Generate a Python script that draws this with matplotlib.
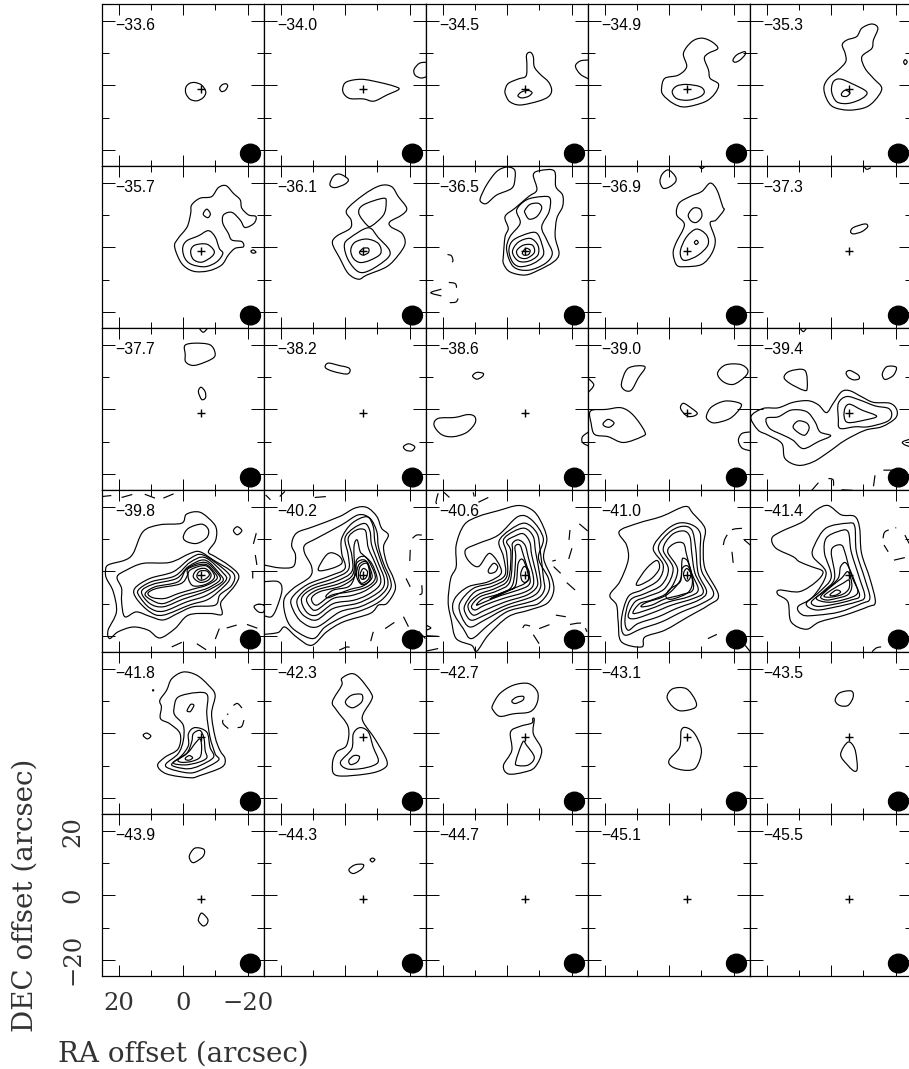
import matplotlib
matplotlib.use("Agg")
import matplotlib.pyplot as plt
import numpy as np
from matplotlib.patches import Ellipse, PathPatch
from matplotlib.path import Path

plt.rcParams["lines.scale_dashes"] = False

# channel velocities, row by row
velocities = ["−33.6", "−34.0", "−34.5", "−34.9", "−35.3",
              "−35.7", "−36.1", "−36.5", "−36.9", "−37.3",
              "−37.7", "−38.2", "−38.6", "−39.0", "−39.4",
              "−39.8", "−40.2", "−40.6", "−41.0", "−41.4",
              "−41.8", "−42.3", "−42.7", "−43.1", "−43.5",
              "−43.9", "−44.3", "−44.7", "−45.1", "−45.5"]

source_pos = (-5.5, -1.0)
beam_pos = (-20.9, -21.2)
beam_size = (6.2, 5.8)

x_major = [20, 0, -20]
x_labels = ["20", "0", "−20"]
minor_ticks = [10, -10]

# contours: (RA offsets, DEC offsets) in arcsec
# closed = closed rings, edge = solid arcs that run off the panel, neg = dashed arcs
closed = {}
edge = {}
neg = {}

closed["−33.6"] = [
    ([-.8, -1.9, -3.6, -5.7, -7.0, -6.2, -4.2, -2.1, -.8], [-.6, .6, .9, .1, -2.0, -3.8, -4.8, -4.3, -2.5]),
    ([-11.3, -12.1, -13.3, -13.8, -13.1, -11.9], [-.9, .2, .5, -.2, -1.5, -1.9]),
]
closed["−34.0"] = [
    ([.8, -.4, -5.1, -10.8, -15, -16.7, -12.9, -8.9, -5.6, -1.5, .4], [-.9, 1.1, 1.9, .9, -.2, -1.2, -3, -4.9, -4.2, -4.1, -2.7]),
]
edge["−34.0"] = [
    ([-25.3, -23.1, -21.4, -21.7, -23.5, -25.3], [7.2, 6.9, 5, 3.2, 2.3, 2.7]),
]
closed["−34.5"] = [
    ([.7, -.3, -3.4, -5.8, -6.1, -6, -7.2, -8.1, -8.4, -10.2, -12.8, -13.8, -12.8, -9.7, -4, -.8, .5],
     [-1.5, .6, 2, 2.9, 6.3, 9.5, 10.3, 8.9, 5.8, 3.5, 1.1, -1.5, -3.5, -4.9, -6.1, -5.1, -3]),
    ([-3.3, -4.5, -6.6, -7.7, -6.6, -4.5], [-3.2, -2, -1.6, -2.3, -3.4, -3.9]),
]
edge["−34.5"] = [
    ([-25.3, -22.7, -21.2, -22.7, -25.3], [7.9, 7.6, 6, 3.5, 2]),
]
closed["−34.9"] = [
    ([2.4, 1.4, -2.8, -5.4, -4.4, -7, -10.1, -13.2, -15.1, -12.2, -10.9, -12.2, -12.7, -15.3, -14.2, -11.1, -4.9, -1.2, 1.9],
     [-.9, 2.2, 3.2, 5.8, 10, 13.6, 14.7, 13.6, 11.5, 10, 8.4, 4.8, 2.2, .4, -2.5, -5.1, -6.7, -5.6, -3]),
    ([-.9, -2.3, -5.4, -9.6, -10.9, -9.6, -5.9, -2.3], [-2, -.2, .3, -.4, -2, -3.5, -4.6, -4.1]),
    ([-19.8, -21, -23.4, -23.6, -22, -20.5], [7.9, 9.5, 10.5, 9.6, 7.9, 7.2]),
]
closed["−35.3"] = [
    ([2.3, .9, -2.2, -4.5, -4.3, -3.4, -4.8, -7.9, -9.5, -12.6, -14.5, -13.1, -12.6, -9.5, -10.5, -13.1, -15.7, -13.6, -10.5, -5.3, -.6, 1.5],
     [-.6, 2.2, 4.8, 7.4, 10, 12.6, 14.1, 15.2, 17.8, 19.1, 17.8, 14.1, 11.5, 8.9, 5.3, 2.2, -.9, -4.6, -6.9, -7.7, -6.7, -4.1]),
    ([-.1, -.6, -2.7, -6.3, -11, -9.5, -5.3, -1.7], [-2, 1.1, 2, .6, -2, -4.1, -5.6, -5.1]),
    ([-3.2, -4.3, -5.8, -4.8, -3.4], [-2.5, -1.5, -2.3, -3.4, -3.3]),
    ([-22.5, -23, -23.6, -23], [7.3, 8, 7.3, 6.5]),
]

closed["−35.7"] = [
    ([2.7, 1.6, -1.2, -2.3, -2.6, -5.2, -8.8, -10.9, -13.3, -15.6, -17.7, -18.2, -20.3, -22.6, -22, -19.2, -17.7, -15.1, -12.5, -12.3, -14, -15.1, -18.2, -18.7, -16.1, -14, -11.9, -7.8, -3.1, .5],
     [.2, 2.8, 6.4, 10.6, 13.2, 15.3, 15.8, 18.6, 19.2, 16.8, 14.8, 12.2, 10.1, 9.6, 7.5, 6.2, 8.5, 10.9, 10.1, 7.5, 4.4, 2.3, 1.8, .2, -.3, -2.4, -5.5, -7.3, -7.4, -5]),
    ([.2, -1, -4.7, -7.8, -9.9, -11.2, -12.3, -10.4, -6.8, -2.6, -.5], [-.3, 2, 3.6, 5.2, 3.3, -.3, -1.9, -4.5, -6, -5.3, -3.4]),
    ([-2.3, -3.6, -7.3, -9.6, -8.8, -5.7, -3.1], [-1.1, .7, 1, -1.1, -2.9, -4.6, -3.7]),
    ([-6.2, -7.3, -8.4, -7.8, -6.8], [10.5, 11.9, 10.5, 9.3, 9.6]),
    ([-21, -21.8, -22.6, -21.7], [-1.2, -.8, -1.5, -1.8]),
]
closed["−36.1"] = [
    ([4.8, 3.7, 1.7, -.9, .1, 3.2], [19.5, 22.1, 22.8, 21.2, 19.7, 18.6]),
    ([4, 2.7, -1.5, -1.8, -.4, -5.6, -10.8, -14.4, -16.5, -19.1, -17.6, -13.9, -14.2, -17.6, -18.6, -16.5, -12.9, -6.7, -4.1, -.9, 1.7],
     [1.2, 3.5, 5.9, 8.5, 11.6, 16.3, 19.2, 18.9, 15.8, 12.2, 10.1, 8, 6.4, 4.4, 1.2, -2.4, -6, -8.6, -9.9, -8.1, -3.4]),
    ([-4.2, -5.6, -11.9, -12.7, -11.9, -8.2, -6.7], [10.6, 13.2, 15.3, 13.7, 10.1, 6.7, 7]),
    ([.3, -1.5, -7.2, -10.3, -13.7, -13.1, -7.7, -4.1, -.9], [.7, 3, 6.1, 3, -.8, -3.4, -7.1, -7.6, -3.9]),
    ([-1.7, -3, -6.7, -10.3, -11, -7.7, -4.6, -2.5], [-.8, 1.6, 2.6, 1.2, -1.9, -4, -4.7, -3.4]),
    ([-4.4, -5.6, -7.2, -7.2, -5.6], [-1.6, -.3, -.3, -1.6, -2.4]),
]
closed["−36.5"] = [
    ([8.4, 6.4, 3.3, .2, -2.2, -2.4, -1.4, 3.3, 6.4, 8], [15.3, 19.5, 23.6, 25, 24.2, 21.5, 18.4, 16.3, 13.7, 14]),
    ([1.2, .7, -.3, .7, -2.4, -6.6, -9.2, -8.1, -10.2, -14.6, -15.1, -17.2, -17.2, -15.4, -14.9, -16.1, -14.4, -9.7, -5.5, -.8, 1.2],
     [-2.4, 3.3, 5.9, 9.6, 12.2, 15.8, 17.9, 22.6, 23.9, 23.8, 18.9, 16.3, 12.7, 9, 3.3, -1.9, -4.5, -7.1, -8.6, -7.6, -5]),
    ([.2, -.8, -4, -2.9, -6, -10.7, -13.3, -13, -10.7, -12.3, -14, -11.8, -6.6, -1.9], [-.8, 3.3, 7.5, 11.6, 14.8, 15.8, 15.3, 11.1, 6.4, 2.3, -1.9, -5, -7.1, -6]),
    ([-5.5, -7.1, -9.7, -10.7, -9.2, -6.8, -5.5], [11.6, 13.4, 13.7, 12.2, 9.6, 8.8, 10.7]),
    ([-.5, -1.9, -6.6, -9.2, -10.7, -11.2, -8.1, -4, -1.6], [-.8, 2.3, 4.4, 4.4, 1.2, -2.4, -5, -6, -4.5]),
    ([-1.6, -3.4, -7.1, -9.5, -9.5, -6.6, -3.4], [-1.4, 1.6, 2.8, .7, -2.4, -4.3, -4.2]),
    ([-2.9, -5, -7.8, -8.4, -6, -3.7], [-1.1, .7, .7, -1.6, -3.4, -3]),
    ([-4.7, -5.8, -7.1, -6.6, -5.2], [-1.6, -.3, -.9, -2.2, -2.4]),
]
neg["−36.5"] = [
    ([18.6, 17.4, 16.9, 17.2], [-2.2, -2.6, -4, -4.7]),
    ([18.2, 16.3, 15.8, 16.3], [-10.9, -11.2, -12.3, -13]),
    ([17.9, 16, 15.3], [-17.2, -17, -15.9]),
]
edge["−36.5"] = [
    ([20.5, 23.8, 20.5], [-13, -14.1, -15.1]),
]
closed["−36.9"] = [
    ([2.9, 2.2, .3, -1.8, -2, -.2, 1.9], [20.5, 22.8, 24.1, 22.2, 20.5, 18.9, 18.4]),
    ([-1.2, -2, -4.7, -2.3, -3, -6.4, -10.1, -12.7, -14.8, -16.6, -17, -14.5, -12.7, -14.3, -13.2, -10.1, -4.9, -2.3],
     [-1.9, 1.2, 7, 10.1, 13.7, 15.8, 17.4, 20, 17.9, 12.7, 11.6, 8.5, 7.5, 2.3, -1.9, -5.3, -6, -5.5]),
    ([-5.9, -7.5, -9.6, -10.1, -8.5, -6.8], [10.1, 12.2, 11.9, 9.6, 7.8, 8.2]),
    ([-3.5, -5.4, -8.5, -11.6, -12, -9, -5.4, -3.8], [-.8, 3.3, 5.7, 3.8, .7, -2.4, -4, -3.4]),
    ([-7.8, -8.5, -9, -8.3], [1.6, 2.2, 1.5, .9]),
]
edge["−36.9"] = [
    ([-9.3, -10.1, -11.1], [25.2, 24.5, 25.2]),
]
closed["−37.3"] = [
    ([-6, -6.9, -10.5, -11.3, -9.5, -6.9], [4.9, 6.2, 7.3, 6.4, 4.9, 4.2]),
]
edge["−37.3"] = [
    ([-10, -11, -12.3], [25.4, 24.3, 24.8]),
]

closed["−37.7"] = [
    ([-.6, -.5, -3.6, -8.3, -9.9, -8.9, -3.6, -.8], [17.2, 19.9, 20.6, 20.1, 17.5, 15.7, 13.7, 14.7]),
    ([-4.7, -5.5, -6.8, -6.9, -5.7], [5.5, 6.9, 5.5, 3.6, 3.1]),
]
edge["−37.7"] = [
    ([-4.9, -6.2, -7.6], [25.3, 24, 25.3]),
]
closed["−38.2"] = [
    ([6.2, 5.3, 1.7, -.9, -1.5, -.4, 3.7], [13, 14.4, 13.6, 13, 12, 11, 11.8]),
    ([-18.1, -19.7, -21.6, -20.7, -18.9], [-11.6, -10.7, -11.6, -12.9, -12.7]),
]
closed["−38.6"] = [
    ([10.8, 9.5, 7.5, 7.8, 9.5], [10.4, 11.5, 11.2, 10.2, 9.4]),
    ([22.8, 21.5, 16.3, 12.2, 10.1, 10.1, 12.7, 16.9, 20.5], [-4.9, -2.8, -2.5, -1.6, -2.3, -4.4, -7.2, -8.5, -7.8]),
]
edge["−38.6"] = [
    ([-25.3, -23.4, -23.4, -25.3], [-7, -8.5, -10.3, -11.4]),
]
closed["−39.0"] = [
    ([14.9, 12.8, 7.6, 9.7, 11.8, 13.9], [8, 12.8, 13.3, 9.7, 6, 6]),
    ([24.5, 19.6, 14.9, 11.2, 7.6, 8.6, 14.3, 19, 23.2, 24.3], [-.5, 0, .5, -1.8, -7, -8.5, -10.3, -8.5, -7.8, -4.4]),
    ([20.6, 19, 17.2, 18.5, 20], [-4.4, -3.1, -4.2, -5.5, -5.3]),
    ([-3.5, -4.4, -7, -8.7, -7.5, -5.4], [.3, 1.9, .3, -1.2, -2.1, -2]),
    ([-11.6, -13.2, -17.4, -22, -22, -18.9, -14.2, -12], [-1.8, .8, 2.6, 1.9, .3, -2.8, -4.2, -3.3]),
    ([-15, -17.4, -22, -24.4, -23.6, -20, -16.8], [11.2, 13.8, 14, 12.3, 10.2, 7.8, 8.6]),
]
edge["−39.0"] = [
    ([25.3, 23.5, 25.3], [9.7, 7.6, 5.2]),
    ([-25.3, -22.6, -21.5, -22.6, -25.3], [-7, -7.5, -9.6, -12, -12.9]),
]
closed["−39.4"] = [
    ([14.7, 12.9, 8.2, 7.5, 8.7, 12.9], [10, 11.9, 12.1, 6.6, 6, 8.1]),
    ([-4.6, -5.8, -8.4, -8.6, -6.9, -5.3], [11.4, 12.1, 10.7, 9.5, 9.2, 10]),
    ([-15.9, -17.3, -20.2, -19.4, -17.3, -16.3], [11.2, 13.3, 13.1, 10.7, 9.4, 9.6]),
    ([25, 21.2, 16.5, 11.9, 7.2, 4, 1.5, -.6, -3.2, -5.8, -9.5, -13.1, -18.3, -20.4, -19.9, -15.7, -10.5, -4.3, .9, 5.6, 10.3, 14.4, 15.4, 19.7, 22.8],
     [-2.3, .3, .5, 2.2, 2.7, 1.4, -1, 1.9, 5.5, 5.8, 3.9, 2.2, 1.9, -.2, -2.8, -5.4, -6.5, -9.6, -13.3, -16.3, -17.4, -15.3, -10.6, -8, -6.4]),
    ([20.2, 16.5, 12.4, 7.7, 5.1, 3.5, .2, 4, 8.7, 11.9, 15, 19.2], [-2.8, -2.3, -.2, -.7, -3.8, -7, -8.2, -10, -12.2, -9.6, -8, -5.9]),
    ([11.9, 10.3, 7.7, 6.9, 8.2, 10.3], [-5.4, -3.6, -4.2, -5.9, -8, -7.2]),
    ([-2.2, -2.2, -4.8, -8.9, -13.6, -17.8, -18.8, -17.3, -11.5, -7.4, -2.7], [-2.8, 1.9, 4, 2.9, 1.1, .3, -1.8, -3.8, -5.4, -5.4, -5.9]),
    ([-4, -4.3, -5.8, -9.5, -14.1, -10.5, -5.3], [-2.3, .5, 1.6, -.2, -2.1, -3.3, -4.1]),
]
edge["−39.4"] = [
    ([-25.3, -22.2, -23, -25.3], [-9, -10.1, -11.1, -11.8]),
    ([9.8, 8.7, 7.7], [25.3, 24.2, 25.3]),
]
neg["−39.4"] = [
    ([6.1, 4], [-25.2, -22.8]),
    ([.9, -.6, -.6], [-21.5, -22, -25.2]),
    ([-3.2, -6.9], [-25, -25.2]),
    ([-13.6, -13.1], [-20.5, -24.1]),
    ([-16.2, -20.9], [-18.9, -18.9]),
]

closed["−39.8"] = [
    ([24.2, 23.4, 18.2, 15.6, 12.5, 7.3, .5, -1, -5.2, -9.4, -10.4, -9.9, -7.8, -9.9, -14, -17.2, -16.1, -13, -11.6, -12, -8.3, -1.6, 2.6, 7.3, 10.9, 15.6, 20.3, 22.9, 23.4, 20.8, 21.8, 23.9],
     [-.1, 2, 3.5, 5.6, 12.4, 14.5, 15, 17.8, 18.4, 15, 12.4, 9.3, 6.1, 4.6, 2, -1.1, -4.3, -7.9, -10, -13.4, -13.1, -13.6, -17.8, -20.7, -18.3, -17.3, -18.8, -20.9, -18.3, -12.6, -6.3, -2.2]),
    ([0, -1.6, -5.7, -7.8, -7.3, -4.2, -1], [10.8, 13.4, 14.7, 13, 10.5, 8.7, 9.3]),
    ([20.6, 17.7, 12.5, 4.2, -2.1, -5.2, -9.4, -15.6, -15.1, -11.4, -9.9, -3.1, 1.6, 6.2, 10.4, 14.6, 18.2, 19.2, 19.2],
     [-1.7, .4, 2.5, 2.8, 5.6, 6.1, 3.5, -.6, -4.3, -7.3, -10.5, -11, -13, -15.1, -14, -12.6, -14.1, -9.4, -5.3]),
    ([15.1, 10.4, 3.1, -2.1, -6.2, -13.5, -14.3, -10.9, -7.3, -2.1, 6.2, 10.4, 14.6], [-5.3, -2.2, -.1, 4, 5.1, -.1, -2.7, -6.3, -8.9, -10.4, -13.6, -12.6, -8.4]),
    ([14, 9.9, 2.6, -2.1, -6.8, -12.5, -13.3, -9.9, -6.2, -1, 6.2, 10.4, 13.5], [-5.8, -3.2, -1.4, 2.8, 4.3, -.6, -2.7, -5.8, -7.9, -9.5, -12.4, -11.4, -8]),
    ([13, 9.4, 2.1, -1.6, -6.8, -11.4, -12.3, -8.8, -5.2, 0, 6.2, 10.4], [-6.3, -4, -2.2, 1.5, 3.5, -.9, -3, -5.3, -6.9, -8.6, -11, -10]),
    ([11.9, 8.8, 1.6, -1.2, -6.8, -10.6, -11.4, -7.8, -4.2, .5, 6.2, 9.9], [-7, -4.8, -3.2, .9, 2.8, -.6, -2.7, -5.1, -6.3, -7.6, -10, -8.9]),
    ([11, 8.3, 1, -1.2, -1.6, -6.8, -9.9, -10.4, -7.3, -3.1, 1.6, 5.7, 9.4], [-6.8, -5.3, -3.9, -1.4, .9, 2.2, -.6, -2.4, -4.3, -5.5, -6.9, -8.4, -8.2]),
    ([-1.6, -2.1, -6.8, -9.4, -9.4, -6.8, -3.1], [-2.2, .4, 1.8, -.6, -2.4, -4.1, -4.5]),
    ([-3.1, -4.2, -6.8, -8.6, -7.8, -5.2], [-1.7, .4, .9, -.9, -2.7, -3.4]),
    ([-4.2, -5.2, -7.3, -8.1, -6.8, -5.2], [-1.4, .1, .1, -1.1, -2.4, -2.7]),
    ([-15.6, -16.8, -18.2, -16.8], [12.7, 13.9, 12.7, 11.4]),
    ([-22, -23.4, -25.2, -25, -23.4], [-11, -10.2, -10.7, -12.6, -12.6]),
]
neg["−39.8"] = [
    ([25.2, 22.4], [23.3, 23.6]),
    ([19.2, 15.6], [23, 24]),
    ([12, 8.8], [24, 22.8]),
    ([6.2, 2.6], [22.8, 24.3]),
    ([-22.7, -21.5], [11.9, 7.4]),
    ([-22.4, -22.9], [5.1, 2]),
    ([-21.6, -21.6], [-.1, -2.2]),
    ([-13.5, -16.6], [-17.6, -16.7]),
    ([-19.8, -23.4], [-16.5, -17.8]),
    ([-11.2, -9.4], [-17.8, -22.5]),
    ([-4.2, -7.3], [-22.5, -24.5]),
    ([3.6, -1], [-23.5, -21.4]),
]
edge["−40.2"] = [
    ([25.3, 20.4, 16.2, 15.5, 16.7, 15.2, 10, 1.7, -3, -6.7, -9.8, -11.3, -13.4, -11.9, -12.9, -15, -15.5, -12.9, -10.3, -7.7, .6, 5.8, 10.5, 15.2, 18.8, 20.9, 25.3],
     [2, 1.1, 1.5, 5.1, 8.2, 11.9, 13.9, 17.1, 19.7, 19.9, 17.1, 13.4, 11.3, 7.7, 2.5, -2.2, -5.8, -10, -10.5, -13.1, -15.7, -18.8, -23, -20.4, -17.3, -19, -19.6]),
    ([25.3, 20.9, 19.7, 21.4, 23, 25.3], [-3.2, -3.2, -5.8, -11.5, -14.1, -13.8]),
]
closed["−40.2"] = [
    ([19.1, 16.2, 11, 10.5, 12.6, 12.6, 8.9, 1.1, -4.1, -7.7, -9.8, -10.3, -11.9, -13.9, -14.1, -11.3, -6.7, .6, 6.3, 10, 15.7, 18.3],
     [-8.9, -5.3, -1.7, 1.5, 5.6, 8.2, 10.3, 14.5, 17.6, 16.5, 12.4, 7.7, 2.5, -2.2, -5.3, -8.9, -11.5, -14.1, -17.3, -20.9, -18.3, -14.7]),
    ([8.4, 6.3, 4.3, 1.7, 1.1, 4.3], [.4, 4.6, 5.8, 4.6, 2.5, .9]),
    ([16.7, 12, 4.8, .1, 1.1, 1.1, -2, -6.7, -8.7, -9.3, -11.3, -13.1, -12.9, -9.8, -4.6, 1.7, 8.9, 13.6, 16.2],
     [-8.4, -4.2, -1.4, .9, 5.6, 10.3, 14.9, 17, 13.9, 8.7, 2.5, -2.2, -5.3, -8.4, -11, -12.6, -17.3, -15.7, -12]),
    ([14.8, 11, 3.7, -.9, -.9, .1, -2.5, -6.1, -7.7, -8.2, -10.3, -12.1, -11.6, -8.2, -3.5, 3.7, 8.9, 12.6, 14.6],
     [-8.4, -4.8, -2.2, .4, 5.1, 10.3, 13.4, 14.9, 12.4, 8.2, 2.5, -2.2, -5.3, -7.9, -10, -11.5, -15.1, -14, -11.4]),
    ([13.6, 10, 2.7, -2, -2, -.9, -3.5, -6.1, -6.7, -7.2, -9.3, -11, -10.3, -6.7, -2.5, 3.7, 8.9, 12.1],
     [-8.4, -5.3, -3, -.1, 5.1, 10.3, 12.9, 12.9, 10.3, 7.2, 2.5, -2.2, -4.8, -7.4, -9, -10, -13.6, -12.6]),
    ([12, 8.9, 1.7, -2.5, -2.7, -3.7, -4.6, -5.6, -8.2, -9.9, -8.7, -5.6, -1.5, 3.7, 8.9, 11],
     [-8.4, -5.8, -3.7, -.6, 7.7, 9.8, 6.2, 5.1, 2.5, -2.2, -4.3, -6.3, -7.6, -8.4, -12, -11]),
    ([10.5, 7.9, 1.1, -3, -3.5, -6.1, -8.2, -9.3, -6.7, -1.5, 4.3, 8.9], [-8.4, -6.3, -4.5, -1.4, 3.5, 4.6, 1.5, -2.2, -4.8, -6.3, -7.4, -10.5]),
    ([6, 3.7, -.9, -2.7, -3.5, -6.1, -7.9, -8.2, -5.6, -1.5, 3.2, 5.3], [-7.6, -5.8, -4.8, -2.2, 2.5, 3.5, .4, -2.2, -4.5, -5.6, -7.4, -8.2]),
    ([-3.5, -4.3, -6.7, -7.7, -7.5, -5.1], [-1.4, 2.2, 3, -.1, -2.9, -4.1]),
    ([-4.1, -4.6, -6.7, -7.5, -7.2, -5.1], [-1.7, 1.5, 2.5, -.1, -2.4, -3.7]),
    ([-4.6, -5.6, -6.9, -6.4, -5.1], [-.9, .9, -.1, -2, -2.4]),
]
neg["−40.2"] = [
    ([24.8, 23.3], [23.8, 22.3]),
    ([20.4, 18.8], [23.3, 24.9]),
    ([9.5, 5.8], [23, 23.3]),
    ([-20.9, -22.2, -23.8], [10.3, 11.3, 11.3]),
    ([-20.2, -20], [6.7, 1.5]),
    ([-18.9, -20.2], [-2.2, -4.8]),
    ([-23.8, -23.8, -22.3], [-4.3, -6.9, -7.2]),
    ([-18.1, -19.7], [-14.1, -17.3]),
    ([-12.4, -15.5], [-17.8, -15.7]),
    ([-8.7, -7.9], [-18.8, -21.7]),
    ([1.9, -.9, -2.5], [-24.5, -23.5, -25]),
    ([-22.8, -24.9], [-18.6, -20.9]),
]
closed["−40.6"] = [
    ([17.6, 15.9, 15.9, 13.4, 9, 2.8, -3.4, -7.6, -10.2, -12.3, -11.3, -13.9, -14.4, -12.3, -6.6, -.3, 5.9, 9.5, 11.1, 15.9, 17.4, 18.4],
     [-2.2, 1.5, 8.2, 14.5, 17.1, 18.9, 20.5, 19.2, 16, 10.3, 4.1, -2.2, -6.3, -10, -12.1, -14.1, -19.8, -24.8, -23, -20.9, -15.2, -9.5]),
    ([13, 9, 2.8, -3.4, -7.6, -11.2, -9.7, -12.8, -12.8, -9.7, -5.5, .2, 5.9, 11.1, 13.7, 16.8, 16.3, 12.2, 5.9, 1.8, 5.4, 9, 12.2],
     [6.7, 8.7, 11.3, 17.1, 16, 10.3, 4.1, -2.2, -6.3, -10, -11, -12.6, -16.7, -20.9, -17.8, -12.6, -8.4, -4.8, -3.2, -.1, 5.6, 1.5, 3.5]),
    ([5.9, 4.3, 3, 3.7, 5.4], [.4, 2.5, 1.5, -.1, -.6]),
    ([14.8, 10.6, 4.9, .7, 1.2, 2.6, -.8, -5.5, -9.2, -10.2, -11.2, -11.5, -8.6, .2, 7, 11.6, 14.2],
     [-9.9, -5.3, -3.7, -1.1, 4.6, 9.3, 12.9, 15, 11.9, 6.7, -1.7, -5.8, -8.9, -11.5, -15.1, -17.3, -14.1]),
    ([13.2, 10, 4.4, .2, .2, 1.2, -1.9, -5.5, -8.1, -8.8, -10.2, -10.2, -7.6, .2, 7, 11.1, 13],
     [-10.5, -6.3, -4.5, -1.7, 5.6, 9.8, 12.4, 13.4, 10.8, 6.1, -1.7, -5.3, -7.9, -10.5, -13.6, -15.2, -13.1]),
    ([12.2, 9, 3.8, -.3, -1.1, .2, -2.4, -5, -7, -7.6, -9.2, -9.2, -6, .7, 7, 10.6],
     [-10.5, -7.2, -5.3, -2.4, 6.1, 9.3, 11, 11.7, 9.1, 5.1, -1.7, -4.8, -7.4, -9.5, -12.1, -13.6]),
    ([11.1, 8.5, 3.3, -.8, -1.6, -1.6, -3.4, -5.5, -6.6, -8.1, -7.8, -5, 1.2, 7, 10],
     [-10.7, -7.9, -6.1, -3.2, 6.1, 8.7, 9.8, 8.2, 4.1, -1.7, -4.8, -6.6, -8.4, -10.5, -12]),
    ([9.6, 7.5, 2.3, -1.6, -2.6, -2.4, -3.9, -5, -7, -6.6, -3.4, 2.3, 7], [-10.5, -8.5, -6.9, -4.3, 4.1, 7.7, 8.2, 5.1, -1.7, -4.3, -5.8, -7.6, -9.5]),
    ([5.4, .2, -2.6, -3.4, -5, -6.6, -5.5, -1.9, 2.3], [-8.6, -6.3, -4.3, 2.5, 3.5, -1.7, -3.7, -5.3, -6.9]),
    ([-4.2, -5.2, -6.6, -6.8, -5.5, -4.5], [-.6, 1.5, .4, -2.2, -3.4, -2.7]),
]
edge["−40.6"] = [
    ([25.3, 23.8, 25.3], [-16.7, -17.6, -18.3]),
    ([25.3, 21.5], [-20, -20.2]),
    ([25.3, 21.5], [-24.8, -24]),
]
neg["−40.6"] = [
    ([21.5, 22.2, 21.5], [24.3, 21.5, 21]),
    ([19.7, 18], [24.6, 23]),
    ([10.6, 10.3], [24.6, 23.3]),
    ([9, 5.9], [21.5, 23]),
    ([-19.5, -19.2], [12.9, 9.8]),
    ([-20.1, -19], [7.2, 3.5]),
    ([-14, -15.1], [3.2, 3.5]),
    ([-14.4, -16.6], [1.5, -.6]),
    ([-18.5, -21.1], [-3.5, -5.8]),
    ([-22.4, -25], [14.8, 12.6]),
    ([-15.1, -18.2], [-13.6, -14.1]),
    ([-4.8, -5.5, -7.1], [-17.6, -16.7, -17]),
    ([-9.9, -13.3], [-17.8, -16.5]),
    ([-8.1, -9.9], [-19.7, -22.5]),
    ([-19.5, -23.2, -24.8], [-16.5, -16.2, -18.8]),
]
closed["−41.0"] = [
    ([18.5, 15.4, 12.8, 13.3, 15.6, 9.7, 2.4, -4.9, -7.3, -11.1, -10.6, -11.1, -15.3, -12.2, -5.9, 1.4, 7.6, 8.6, 14.9, 15.9, 16.4],
     [-7.4, -3.2, 3.5, 8.2, 12.4, 15, 17.1, 20.2, 18.1, 13.4, 8.2, .9, -7.4, -10.5, -14.1, -18.3, -20.4, -23.5, -21.9, -15.7, -10.5]),
    ([14.9, 12.8, 8.6, 3.4, 1.9, 5, 1.4, -2.8, -7, -9.6, -9.6, -10.1, -13.8, -10.1, -3.9, 2.4, 8.6, 13.9],
     [-15, -7.9, -5.8, -2.7, 2, 7.2, 12.4, 15, 14.5, 11.9, 6.1, 0, -6.9, -10, -12.6, -15.7, -17.8, -19.8]),
    ([10.2, 7.1, 3.9, 3.1, 5.5, 9.1], [-3.7, .9, 3.4, .9, -2.2, -4.2]),
    ([13.8, 12.2, 7.6, 2.4, .3, 3.4, .3, -3.8, -7, -8.2, -9, -11.6, -9, -2.3, 3.4, 9.7, 12.8],
     [-15, -9, -6.9, -4.2, .9, 7.2, 11.9, 14, 12.9, 7.2, -.6, -6.3, -9, -11.5, -14.1, -16.2, -18.3]),
    ([12.8, 10.7, 7, 1.4, -1.2, 1.9, -.7, -4.4, -6.4, -7, -8, -10.6, -7.5, -.7, 4.5, 10.7],
     [-13.8, -9.5, -7.9, -5.3, .9, 6.7, 11.3, 12.6, 10.8, 5.6, -.6, -6.3, -8.4, -10.5, -12.6, -14.7]),
    ([11.2, 9.2, 5.5, .3, -2.6, .5, -1.6, -4.4, -5.4, -7, -9, -5.9, .3, 5.5],
     [-13.1, -10, -8.9, -6.3, .4, 6.1, 8.7, 8.7, 5.1, -.6, -5.8, -7.9, -9.5, -11.5]),
    ([8.8, 7.2, 1.9, -1.2, -3.6, -3.9, -4.4, -6, -7.5, -3.9, 1.4, 5.5], [-11, -9.7, -7.9, -5.6, -2.2, 3, 4.1, 2.5, -5.3, -7.2, -8.6, -10.5]),
    ([1.1, -.2, -3.4, -4, -5.9, -7.2, -5.9, -1.8, .3], [-7.4, -5.5, -3.2, .9, 1.5, -3.2, -6.5, -8.4, -8.6]),
    ([-4.4, -5.4, -6.7, -6.4, -5.4], [-.9, .9, -.6, -2.2, -3]),
]
neg["−41.0"] = [
    ([-16.8, -17.4, -19.4, -22.6], [8.2, 10.3, 12.9, 13.4]),
    ([-19.5, -20], [6.1, 1.5]),
    ([-23.3, -25.2], [9.8, 8.2]),
    ([-23.6, -25.2], [-23, -25]),
    ([-12, -14.8], [-20.9, -19.6]),
    ([-17.9, -20], [-21.7, -22.2]),
]
closed["−41.4"] = [
    ([18.5, 15.6, 8.8, 4.7, 1, -3.1, -7.3, -8.8, -9.4, -12, -13.7, -11.4, -4.2, 3.6, 7.8, 12.5, 13.5, 16.6, 16.1, 9.9, 4.7, 2.6, 6.2, 9.9, 11.9, 17.2],
     [10.3, 12.4, 15.5, 19.1, 20.5, 17.6, 17.1, 13.5, 5.7, -2.2, -9.5, -11, -13.6, -15.7, -18, -15.7, -9.5, -7.2, -5.8, -6.3, -3.2, -.1, 1.5, 3, 4.6, 7.2]),
    ([10.4, 5.7, 1.6, 5.7, 5.2, 1.6, -5.2, -7.3, -7.8, -10.4, -12, -9.4, -2.6, 4.2, 8.8],
     [-11, -7.9, -.6, 4.6, 8.2, 13.5, 15, 14, 6.2, -2.2, -8.4, -10, -12.6, -13.6, -13.6]),
    ([7.8, 3.6, 0, 2.1, 1.6, -2.1, -5.2, -6.2, -8.8, -10.4, -7.8, -1.6, 4.7], [-10, -6.3, -1.7, 5.6, 10.3, 12.4, 12.4, 6.1, -2.2, -7.9, -9.5, -11, -12]),
    ([6.2, 2.6, -1, 0, -.8, -3.1, -4.2, -6.2, -8.8, -6.2, -1, 4.2], [-9.5, -6.3, -2.2, 5.6, 7.7, 8.2, 6.1, -1.1, -7.4, -8.9, -10.2, -10.9]),
    ([4.7, 1.6, -2.1, -2.9, -4.7, -7.3, -8.1, -4.2, 1], [-8.4, -5.8, -2.2, 1.5, 2.5, -3.2, -6.9, -8.7, -9.6]),
    ([3.3, .5, -3.1, -5.2, -6.4, -5.2, -1.6, 1.5], [-7.9, -5.1, -2.2, -.1, -4.3, -7.2, -8.4, -8.9]),
    ([2.3, 0, -3.6, -5.5, -5.5, -3.6, 0], [-7.7, -5.8, -3.7, -2.7, -5.3, -7.1, -8]),
    ([.3, -1.6, -2.9, -1.6, 0], [-7.1, -5.8, -6.4, -7.3, -7.6]),
]
neg["−41.4"] = [
    ([-16.1, -16.8, -20.2], [10.3, 12.4, 13.6]),
    ([-16.4, -17.7], [8.2, 6.1]),
    ([-19.5, -22.9], [3.5, 4.3]),
    ([-22.9, -24.2], [11.3, 8.7]),
    ([-12.7, -14, -15.5], [-25, -23.8, -23.5]),
]

closed["−41.8"] = [
    ([7.3, 5.2, 3.6, 0, -4.2, -7.8, -9.9, -8.8, -9.9, -11.4, -13, -12, -5.2, -2.1, 5.2, 8, 5.7, 1.6, 1, 4.2, 7.1, 6.8],
     [10.3, 13.4, 17, 19.1, 18.1, 15, 11.9, 6.1, -1.1, -5.3, -7.9, -10.5, -13.1, -13.8, -12.6, -10, -7.4, -4.8, -.1, 3, 4.6, 8.2]),
    ([2.9, 1.6, -4.2, -7.5, -7.3, -8.3, -9.9, -10.9, -5.2, -1.6, 4.2, 5.4, 1.6, 0, 0, 2.6],
     [7.7, 11.3, 12.7, 11.9, 6.1, -1.1, -6.3, -8.4, -11.5, -12.3, -11, -9.5, -6.3, -2.2, 2.5, 5.6]),
    ([-1.2, -2.3, -3.3, -2.3, -1.5], [7.2, 9, 8.7, 6.9, 6.8]),
    ([3.6, .5, -1.6, -1.6, -3.6, -7.3, -8.3, -9.4, -5.2, -1.6, 2.1], [-9.5, -6.9, -3.7, -.1, 1.8, .4, -4.3, -7.4, -10, -11, -10.5]),
    ([3.1, -1, -2.6, -3.1, -5.2, -6.4, -6.8, -7.3, -4.7, -.5], [-9.1, -6.3, -2.7, -.1, .9, -1.4, -5.3, -7.6, -9, -9.8]),
    ([1.6, -1.6, -3.6, -5.2, -5.7, -5.2, -2.6, .5], [-8.2, -5.8, -3.2, -1.7, -4.3, -7.4, -8.7, -9]),
    ([-.7, -1.9, -2.9, -1.9, -.8], [-7.6, -6.9, -7.6, -8.3, -8.2]),
    ([12.5, 11.4, 10.1, 11.2], [-.6, .1, -.8, -1.7]),
    ([9.6, 9.4, 9.2, 9.4], [13.4, 13.6, 13.4, 13.2]),
]
neg["−41.8"] = [
    ([-15.6, -16.9, -18.4], [8.7, 9.3, 7.7]),
    ([-14, -12.3, -12.7, -14], [1.5, 3.2, 5.1, 6.1]),
    ([-16.9, -18.2, -19], [1.8, 2.2, 4.6]),
]
closed["−42.3"] = [
    ([4, 1.1, 1.1, -2, -4.6, -8.1, -8.1, -5.6, -5.6, -9.2, -12.9, -11.9, -6.7, 2.7, 4, 2.7, -.4, -.9, 2.7],
     [9.9, 15, 17.1, 18.6, 17.1, 12.4, 10.3, 6.1, 3.5, -1.7, -8.4, -11, -12.6, -13.1, -9.5, -5.8, -3.7, 2, 7.2]),
    ([-.1, -2, -5.1, -5.1, -2.5, -.6], [10.1, 11.9, 12.1, 9.8, 8, 8.7]),
    ([1.5, -2, -2.5, -4.6, -7.2, -8.7, -10.3, -8.7, -4.6, -.4], [-8.9, -4.8, -.1, 1.8, .4, -4.3, -8.4, -10, -11, -11]),
    ([-1.1, -2.7, -4.4, -3.7, -1.7], [-8.4, -6.9, -7.2, -8.9, -9.7]),
]
closed["−42.7"] = [
    ([4.6, 2.3, -1.9, -6.6, -9.4, -9.2, -7, -1.9, 2.3, 4.4], [8.7, 12.4, 15, 15.5, 12.9, 9.3, 6.7, 6.1, 5.3, 7.2]),
    ([-1.4, -2.9, -5, -4.8, -2.4], [10.1, 11.3, 11.5, 10.3, 9.3]),
    ([1.2, -1.4, -1, -4, -7.6, -7.9, -8.4, -8.1, -10.7, -8.6, -5, -.3], [-10, -5.3, .4, 2.2, 3.2, 4.6, 4.3, -.1, -5.3, -10.5, -12.1, -12.6]),
    ([-2.6, -4.8, -6, -8.4, -6.6, -3.4], [-8.9, -2.7, -3.7, -7.4, -9.8, -10]),
]
closed["−43.1"] = [
    ([.7, -1.1, -5.3, -8.1, -8, -3.7, -1.1], [11.3, 13.9, 13.9, 10.3, 8, 7, 8.3]),
    ([.1, -3.2, -3.7, -5.3, -7.9, -10, -8.4, -5.3, -1.1], [-8.4, -4.3, .9, 1.8, -.1, -5.3, -10.5, -11.5, -10.5]),
]
closed["−43.5"] = [
    ([-1.2, -2.6, -6.2, -6.8, -5.2, -2.6], [10.3, 12.6, 13.2, 11.3, 8.7, 8.7]),
    ([-2.9, -5.2, -7.3, -8.1, -7.3, -5.2], [-6.6, -2.7, -4.8, -10.5, -11.8, -10]),
]
closed["−43.9"] = [
    ([-1.9, -3.6, -6.4, -6.2, -3.6, -2.4], [12.4, 14.7, 14.3, 12.2, 10.3, 10.6]),
    ([-4.7, -5.7, -7.6, -7.3, -6.2, -5], [-7.4, -5.5, -7.4, -8.9, -9.5, -8.4]),
]
closed["−44.3"] = [
    ([-1.1, -3, -5.6, -5.1, -2.5], [8, 9.5, 9.6, 8.2, 6.8]),
    ([-7.7, -8.5, -9.2, -8.4], [11.1, 11.6, 11.1, 10.4]),
]


def spline_path(ra, dec, close):
    # catmull-rom through the read points, as bezier segments
    pts = np.column_stack([ra, dec])
    n = len(pts)
    verts = [pts[0]]
    codes = [Path.MOVETO]
    nseg = n if close else n - 1
    for i in range(nseg):
        if close:
            p0, p1, p2, p3 = pts[(i - 1) % n], pts[i], pts[(i + 1) % n], pts[(i + 2) % n]
        else:
            p0, p1, p2, p3 = pts[max(i - 1, 0)], pts[i], pts[i + 1], pts[min(i + 2, n - 1)]
        verts += [p1 + (p2 - p0) / 6, p2 - (p3 - p1) / 6, p2]
        codes += [Path.CURVE4] * 3
    return Path(verts, codes)


def draw_rings(ax, rings, close, style="-"):
    for ra, dec in rings:
        patch = PathPatch(spline_path(ra, dec, close), fc="none", ec="black", lw=0.85, ls=style)
        ax.add_patch(patch)


fig = plt.figure(figsize=(9.09, 10.69), dpi=100)
W, H = 909.0, 1069.0
left0, top0, size = 102.3, 4.4, 162.0

for k, vel in enumerate(velocities):
    row, col = divmod(k, 5)
    ax = fig.add_axes([(left0 + col * size) / W, 1 - (top0 + (row + 1) * size) / H, size / W, size / H])
    ax.set_xlim(25.2, -25.2)
    ax.set_ylim(-25.2, 25.2)

    draw_rings(ax, closed.get(vel, []), True)
    draw_rings(ax, edge.get(vel, []), False)
    draw_rings(ax, neg.get(vel, []), False, style=(0, (8, 5)))

    ax.plot(*source_pos, marker="+", ms=6, mew=1.0, color="black")
    ax.add_patch(Ellipse(beam_pos, beam_size[0], beam_size[1], fc="black", ec="black", zorder=4))
    ax.text(0.081, 0.87, vel, transform=ax.transAxes, family="Liberation Sans", fontsize=11.3, va="center", ha="left")

    ax.set_xticks(x_major)
    ax.set_yticks(x_major)
    ax.set_xticks(minor_ticks, minor=True)
    ax.set_yticks(minor_ticks, minor=True)
    ax.tick_params(axis="x", which="major", direction="in", top=True, bottom=True, length=8, width=0.7, labelbottom=False)
    ax.tick_params(axis="x", which="minor", direction="in", top=True, bottom=True, length=4, width=0.7)
    ax.tick_params(axis="y", which="major", direction="in", left=True, right=True, length=9.5, width=0.7, labelleft=False)
    ax.tick_params(axis="y", which="minor", direction="in", left=True, right=True, length=5, width=0.7)
    for sp in ax.spines.values():
        sp.set_linewidth(0.9)

    if row == 5 and col == 0:
        ax.tick_params(axis="x", which="major", labelbottom=True, pad=11)
        ax.tick_params(axis="y", which="major", labelleft=True, pad=13)
        ax.set_xticklabels(x_labels, family="DejaVu Serif", fontsize=17.5, color="#333333")
        ax.set_yticklabels(x_labels, family="DejaVu Serif", fontsize=17.5, color="#333333", rotation=90, va="center")
        ax.set_xlabel("RA offset (arcsec)", family="DejaVu Serif", fontsize=20, color="#333333", va="center")
        ax.set_ylabel("DEC offset (arcsec)", family="DejaVu Serif", fontsize=20, color="#333333", va="center")
        ax.xaxis.set_label_coords(0.5, -0.479)
        ax.yaxis.set_label_coords(-0.477, 0.5)

fig.savefig("out.png", dpi=100)
